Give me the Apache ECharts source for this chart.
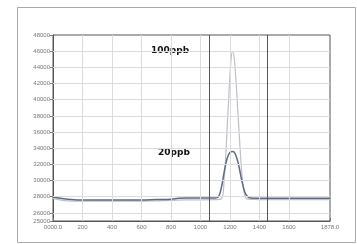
<!DOCTYPE html>
<html>
<head>
<meta charset="utf-8">
<script src="https://cdn.jsdelivr.net/npm/echarts@6/dist/echarts.min.js"></script>
<style>
  html, body { margin: 0; padding: 0; background: #fff; }
  #chart { width: 357px; height: 244px; }
</style>
</head>
<body>
<div id="chart"></div>
<script>
// x positions (time) and signal values
const x20 = [0, 50, 100, 200, 300, 400, 500, 600, 700, 800, 850, 900, 1000, 1100, 1120, 1140, 1160, 1180, 1200, 1220, 1240, 1260, 1280, 1300, 1320, 1340, 1400, 1500, 1600, 1700, 1800, 1878]
const y20 = [28000, 27800, 27700, 27600, 27600, 27600, 27600, 27600, 27650, 27700, 27800, 27850, 27850, 27850, 27950, 29000, 31000, 32700, 33500, 33600, 33100, 31800, 30000, 28600, 28000, 27850, 27800, 27800, 27800, 27800, 27800, 27800]

const x100 = [0, 100, 300, 500, 700, 900, 1100, 1140, 1160, 1185, 1205, 1218, 1232, 1255, 1280, 1300, 1320, 1400, 1600, 1878]
const y100 = [27800, 27500, 27450, 27450, 27500, 27600, 27650, 27700, 30000, 38000, 44500, 46000, 44500, 38000, 31000, 28200, 27700, 27650, 27650, 27650]

// integration window markers
const markers = [1060, 1455]

// axis ticks and labels
const xTicks = [0, 200, 400, 600, 800, 1000, 1200, 1400, 1600, 1878]
const xTickLabels = ['0000.0', '200', '400', '600', '800', '1000', '1200', '1400', '1600', '1878.0']
const yTicks = [25000, 26000, 28000, 30000, 32000, 34000, 36000, 38000, 40000, 42000, 44000, 46000, 48000]
const yGrid = [26000, 28000, 30000, 32000, 34000, 36000, 38000, 40000, 42000, 44000, 46000]

const chart = echarts.init(document.getElementById('chart'))

const option = {
  animation: false,
  backgroundColor: '#fff',
  grid: { left: 53, right: 27, top: 35, bottom: 23, show: true, borderColor: '#555', borderWidth: 1 },
  xAxis: {
    type: 'value',
    min: 0,
    max: 1878,
    axisLine: { show: true, lineStyle: { color: '#555' } },
    axisTick: { show: true, customValues: xTicks, inside: true, length: 3, lineStyle: { color: '#777' } },
    axisLabel: {
      customValues: xTicks,
      formatter: v => xTickLabels[xTicks.indexOf(v)] || '',
      fontSize: 6,
      color: '#777',
      margin: 3
    },
    splitLine: { show: false }
  },
  yAxis: {
    type: 'value',
    min: 25000,
    max: 48000,
    axisLine: { show: true, lineStyle: { color: '#555' } },
    axisTick: { show: true, customValues: yTicks, length: 3, lineStyle: { color: '#777' } },
    axisLabel: { customValues: yTicks, formatter: v => String(v), fontSize: 6, color: '#777', margin: 3 },
    splitLine: { show: false }
  },
  series: [
    {
      name: 'grid',
      type: 'line',
      data: [],
      silent: true,
      markLine: {
        symbol: 'none',
        silent: true,
        label: { show: false },
        lineStyle: { color: '#dcdcdc', type: 'solid', width: 1 },
        data: yGrid.map(v => ({ yAxis: v })).concat(xTicks.slice(1, -1).map(v => ({ xAxis: v })))
      }
    },
    {
      name: '100ppb',
      type: 'line',
      data: x100.map((x, i) => [x, y100[i]]),
      smooth: 0.4,
      showSymbol: false,
      lineStyle: { color: '#bcc0c8', width: 1.2 },
      z: 3
    },
    {
      name: '20ppb',
      type: 'line',
      data: x20.map((x, i) => [x, y20[i]]),
      smooth: 0.4,
      showSymbol: false,
      lineStyle: { color: '#5e6a86', width: 1.5 },
      z: 4,
      markLine: {
        symbol: 'none',
        silent: true,
        label: { show: false },
        lineStyle: { color: '#555', type: 'solid', width: 1 },
        data: markers.map(v => ({ xAxis: v }))
      }
    }
  ],
  graphic: [
    { type: 'rect', left: 15, top: 5, shape: { width: 338, height: 235 }, style: { fill: 'none', stroke: '#aaa', lineWidth: 1 }, silent: true },
    { type: 'text', left: 151, top: 46, style: { text: '100ppb', font: 'bold 9px "DejaVu Sans", sans-serif', fill: '#111' } },
    { type: 'text', left: 158, top: 148, style: { text: '20ppb', font: 'bold 9px "DejaVu Sans", sans-serif', fill: '#111' } }
  ]
}

chart.setOption(option)
</script>
</body>
</html>
